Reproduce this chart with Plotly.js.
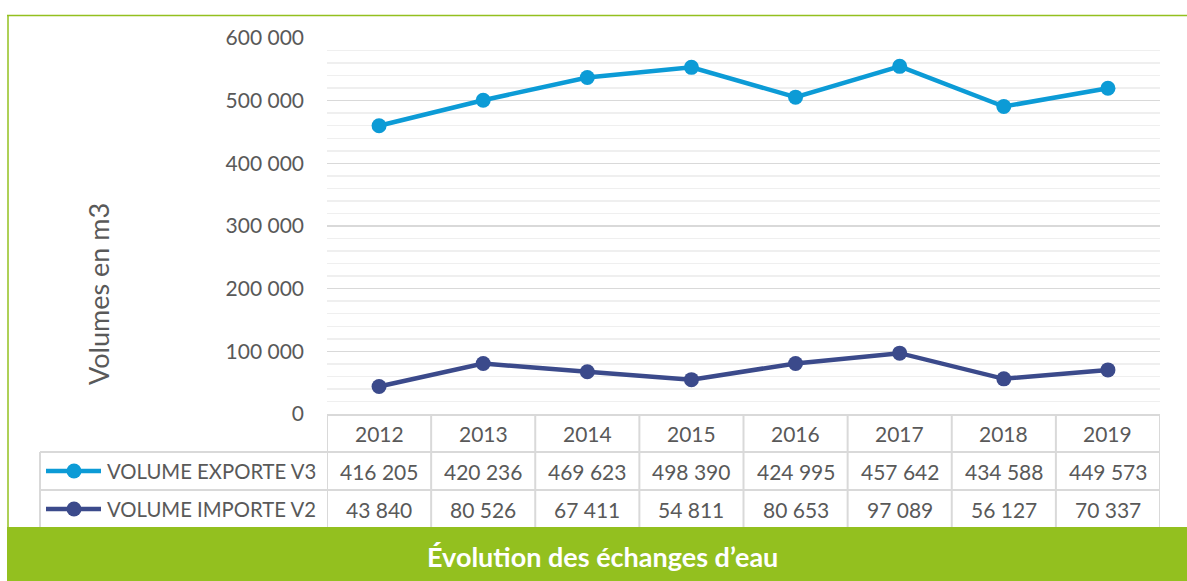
<!DOCTYPE html>
<html>
<head>
<meta charset="utf-8">
<script src="https://cdn.plot.ly/plotly-3.0.1.min.js"></script>
<style>html,body{margin:0;padding:0;background:#fff;}#chart{width:1187px;height:581px;}</style>
</head>
<body>
<div id="chart"></div>
<script>
// ---- data ----
const years = ['2012','2013','2014','2015','2016','2017','2018','2019'];
const exporte = [416205, 420236, 469623, 498390, 424995, 457642, 434588, 449573];
const importe = [43840, 80526, 67411, 54811, 80653, 97089, 56127, 70337];
const seriesNames = ['VOLUME EXPORTE V3', 'VOLUME IMPORTE V2'];
const yTickVals = [0, 100000, 200000, 300000, 400000, 500000, 600000];
const yTitle = 'Volumes en m3';
const chartTitle = 'Évolution des échanges d’eau';

// ---- styles ----
const W = 1187, H = 581;
const L = 327, R = 1160, T = 38, B = 414;
const cExp = '#0C9BD6', cImp = '#3B4A8B', green = '#93C01F', gridC = '#D9D9D9', txt = '#595959';
const FONT = 'Lato, "Open Sans", sans-serif';
const px = x => (x - L) / (R - L);
const py = y => (B - y) / (B - T);
const fmt = v => String(v).replace(/\B(?=(\d{3})+(?!\d))/g, ' ');

const traces = [
  {x: years, y: importe, name: seriesNames[1], type: 'scatter', mode: 'lines+markers',
   stackgroup: 'one', fill: 'none', line: {color: cImp, width: 4.5}, marker: {color: cImp, size: 15}},
  {x: years, y: exporte, name: seriesNames[0], type: 'scatter', mode: 'lines+markers',
   stackgroup: 'one', fill: 'none', line: {color: cExp, width: 4.5}, marker: {color: cExp, size: 15}}
];

const shapes = [];
const annotations = [];
const tl = {color: gridC, width: 2};
// table horizontal lines
shapes.push({type: 'line', xref: 'paper', yref: 'paper', x0: 0, x1: 1, y0: py(415), y1: py(415), line: tl});
[452, 490].forEach(y => shapes.push({type: 'line', xref: 'paper', yref: 'paper', x0: px(40), x1: 1, y0: py(y), y1: py(y), line: tl}));
// table vertical lines
for (let k = 0; k <= years.length; k++) {
  shapes.push({type: 'line', xref: 'x', yref: 'paper', x0: k - 0.5, x1: k - 0.5, y0: py(415), y1: py(530), line: tl});
}
shapes.push({type: 'line', xref: 'paper', yref: 'paper', x0: px(40), x1: px(40), y0: py(452), y1: py(530), line: tl});
// legend keys
const rowY = [471, 509], keyCols = [cExp, cImp];
rowY.forEach((y, i) => {
  shapes.push({type: 'line', xref: 'paper', yref: 'paper', x0: px(46), x1: px(101), y0: py(y), y1: py(y), line: {color: keyCols[i], width: 4.5}});
  shapes.push({type: 'circle', xref: 'paper', yref: 'paper', x0: px(66.5), x1: px(81.5), y0: py(y - 7.5), y1: py(y + 7.5), fillcolor: keyCols[i], line: {width: 0}});
  annotations.push({xref: 'paper', yref: 'paper', x: px(105), y: py(y), xanchor: 'left', yanchor: 'middle', showarrow: false,
    text: seriesNames[i], font: {family: FONT, size: 20.3, color: txt}});
});
// table cells (category index positions on the x axis)
years.forEach((yr, i) => {
  const cell = (y, t) => annotations.push({xref: 'x', yref: 'paper', x: i, y: py(y), xanchor: 'center', yanchor: 'middle',
    showarrow: false, text: t, font: {family: FONT, size: 21, color: txt}});
  cell(433, yr);
  cell(471, fmt(exporte[i]));
  cell(509, fmt(importe[i]));
});
// outer green frame
shapes.push({type: 'line', xref: 'paper', yref: 'paper', x0: px(7), x1: px(W), y0: py(15.5), y1: py(15.5), line: {color: green, width: 1.5}});
shapes.push({type: 'line', xref: 'paper', yref: 'paper', x0: px(8), x1: px(8), y0: py(15), y1: py(528), line: {color: green, width: 1.5}});
// banner
shapes.push({type: 'rect', xref: 'paper', yref: 'paper', x0: px(7), x1: px(W + 2), y0: py(527), y1: py(H + 2), fillcolor: green, line: {width: 0}, layer: 'above'});
annotations.push({xref: 'paper', yref: 'paper', x: px(602), y: py(556), xanchor: 'center', yanchor: 'middle', showarrow: false,
  text: '<b>' + chartTitle + '</b>', font: {family: FONT, size: 27, color: '#ffffff'}});
// y title
annotations.push({xref: 'paper', yref: 'paper', x: px(98), y: py(294), xanchor: 'center', yanchor: 'middle', showarrow: false, textangle: -90,
  text: yTitle, font: {family: FONT, size: 27, color: txt}});

const layout = {
  width: W, height: H,
  margin: {l: L, r: W - R, t: T, b: H - B, pad: 0},
  paper_bgcolor: '#ffffff', plot_bgcolor: '#ffffff',
  separators: ', ',
  showlegend: false,
  xaxis: {type: 'category', range: [-0.5, years.length - 0.5], showgrid: false, showticklabels: false, zeroline: false, showline: false},
  yaxis: {range: [0, 600000], tickvals: yTickVals, tickformat: ',', showgrid: true, gridcolor: gridC, gridwidth: 1.5,
    zeroline: false, showline: false, ticks: '', ticklabelstandoff: 22,
    tickfont: {family: FONT, size: 21, color: txt},
    minor: {dtick: 20000, showgrid: true, gridcolor: '#EFEFEF', gridwidth: 1.5}},
  shapes: shapes,
  annotations: annotations
};

Plotly.newPlot('chart', traces, layout, {displayModeBar: false, staticPlot: true});
</script>
</body>
</html>
